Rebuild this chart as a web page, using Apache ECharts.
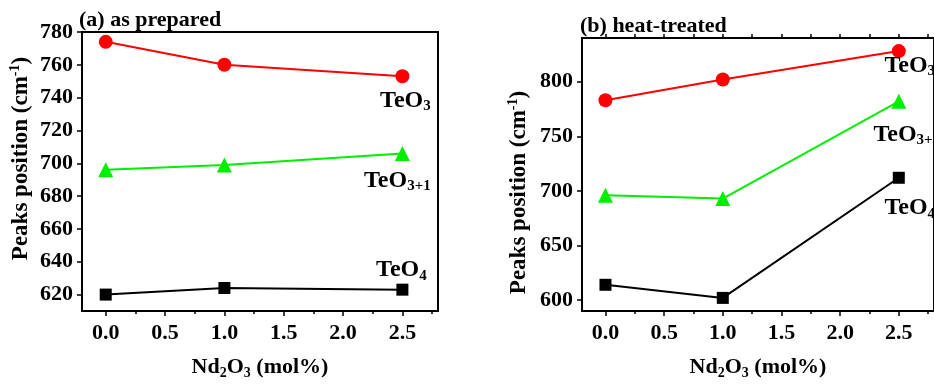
<!DOCTYPE html>
<html>
<head>
<meta charset="utf-8">
<script src="https://cdn.jsdelivr.net/npm/echarts@6/dist/echarts.min.js"></script>
<style>html,body{margin:0;padding:0;background:#fff}#c{width:934px;height:385px}</style>
</head>
<body>
<div id="c"></div>
<script>
// ---- data ----
const xValues = [0, 1, 2.5];
const aTeO3 = [774, 760, 753];
const aTeO31 = [696, 699, 706];
const aTeO4 = [620, 624, 623];
const bTeO3 = [783, 802, 828];
const bTeO31 = [696, 693, 782];
const bTeO4 = [614, 602, 712];
const xTicks = [0, 0.5, 1.0, 1.5, 2.0, 2.5];
const xMinorTicks = [0.25, 0.75, 1.25, 1.75, 2.25, 2.75];
const aYTicks = [620, 640, 660, 680, 700, 720, 740, 760, 780];
const bYTicks = [600, 650, 700, 750, 800];
const titleA = '(a) as prepared';
const titleB = '(b) heat-treated';

const FONT = 'Liberation Serif';
const chart = echarts.init(document.getElementById('c'), null, {renderer: 'canvas'});

const subRich = {
  n: {fontFamily: FONT, fontWeight: 'bold', fontSize: 24, lineHeight: 25, verticalAlign: 'top', color: '#000'},
  s: {fontFamily: FONT, fontWeight: 'bold', fontSize: 15, lineHeight: 15, verticalAlign: 'bottom', padding: [15, 0, 0, 0], color: '#000'}
};

function endLabel(sub, offset) {
  return {
    show: true, position: 'inside', offset: offset,
    formatter: '{n|TeO}{s|' + sub + '}', rich: subRich
  };
}

function seriesData(vals, sub, offset) {
  return vals.map((v, i) => i === vals.length - 1
    ? {value: [xValues[i], v], label: endLabel(sub, offset)}
    : [xValues[i], v]);
}

function line(vals, color, symbol, size, xi, yi, sub, offset) {
  return {
    type: 'line', xAxisIndex: xi, yAxisIndex: yi,
    data: seriesData(vals, sub, offset),
    symbol: symbol, symbolSize: size, showSymbol: true,
    lineStyle: {color: color, width: 2},
    itemStyle: {color: color},
    label: {show: false},
    z: 5, animation: false
  };
}

function mainX(grid) {
  return {
    type: 'value', gridIndex: grid, position: 'bottom', min: -0.2, max: 2.8,
    axisLine: {show: true, onZero: false, lineStyle: {color: '#000', width: 2}},
    axisTick: {show: true, inside: false, length: 5, customValues: xTicks, lineStyle: {color: '#000', width: 1.5}},
    axisLabel: {show: true, customValues: xTicks, margin: 11, formatter: v => v.toFixed(1),
      fontFamily: FONT, fontWeight: 'bold', fontSize: 22, color: '#000'},
    splitLine: {show: false},
    name: '{n|Nd}{s|2}{n|O}{s|3}{n| (mol%)}', nameLocation: 'middle', nameGap: 45,
    nameTextStyle: {rich: {
      n: {fontFamily: FONT, fontWeight: 'bold', fontSize: 22, lineHeight: 24, verticalAlign: 'top', color: '#000'},
      s: {fontFamily: FONT, fontWeight: 'bold', fontSize: 14, lineHeight: 14, verticalAlign: 'bottom', padding: [14, 0, 0, 0], color: '#000'}
    }}
  };
}
function minorX(grid, pos) {
  return {
    type: 'value', gridIndex: grid, position: pos, min: -0.2, max: 2.8,
    axisLine: {show: false, onZero: false},
    axisTick: {show: true, inside: false, length: pos === 'top' ? 4 : 3, customValues: pos === 'top' ? xTicks.concat(xMinorTicks) : xMinorTicks, lineStyle: {color: '#000', width: 1.5}},
    axisLabel: {show: false}, splitLine: {show: false}
  };
}
function mainY(grid, min, max, ticks, gap, pad) {
  return {
    type: 'value', gridIndex: grid, min: min, max: max, position: 'left',
    axisLine: {show: true, onZero: false, lineStyle: {color: '#000', width: 2}},
    axisTick: {show: true, inside: false, length: 5, customValues: ticks, lineStyle: {color: '#000', width: 1.5}},
    axisLabel: {show: true, customValues: ticks, margin: 9,
      fontFamily: FONT, fontWeight: 'bold', fontSize: 22, color: '#000'},
    splitLine: {show: false},
    name: '{n|Peaks position (cm}{p|-1}{n|)}', nameLocation: 'middle', nameRotate: 90, nameGap: gap,
    nameTextStyle: {padding: pad, rich: {
      n: {fontFamily: FONT, fontWeight: 'bold', fontSize: 23, lineHeight: 25, verticalAlign: 'bottom', color: '#000'},
      p: {fontFamily: FONT, fontWeight: 'bold', fontSize: 14, lineHeight: 14, verticalAlign: 'top', color: '#000'}
    }}
  };
}

const option = {
  backgroundColor: '#fff',
  animation: false,
  title: [
    {text: titleA, left: 79, top: 9, padding: 0, textStyle: {fontFamily: FONT, fontWeight: 'bold', fontSize: 22, color: '#000'}},
    {text: titleB, left: 580, top: 15, padding: 0, textStyle: {fontFamily: FONT, fontWeight: 'bold', fontSize: 22, color: '#000'}}
  ],
  grid: [
    {left: 82, top: 32, width: 356, height: 280, show: true, borderColor: '#000', borderWidth: 2, containLabel: false},
    {left: 582, top: 38, width: 363, height: 277, show: true, borderColor: '#000', borderWidth: 2, containLabel: false}
  ],
  xAxis: [
    mainX(0), minorX(0, 'bottom'),
    mainX(1), minorX(1, 'bottom'), minorX(1, 'top')
  ],
  yAxis: [
    mainY(0, 610, 780, aYTicks, 49, [0, 0, 0, 26]),
    mainY(1, 590, 840, bYTicks, 51, [0, 36, 0, 0])
  ],
  series: [
    line(aTeO3, '#ff0000', 'circle', 14, 0, 0, '3', [3, 25]),
    line(aTeO31, '#00ee00', 'triangle', 15, 0, 0, '3+1', [-5, 28]),
    line(aTeO4, '#000000', 'rect', 12, 0, 0, '4', [-1, -19]),
    line(bTeO3, '#ff0000', 'circle', 14, 2, 1, '3', [11, 15]),
    line(bTeO31, '#00ee00', 'triangle', 15, 2, 1, '3+1', [8, 34]),
    line(bTeO4, '#000000', 'rect', 12, 2, 1, '4', [11, 31])
  ]
};
chart.setOption(option);
</script>
</body>
</html>
